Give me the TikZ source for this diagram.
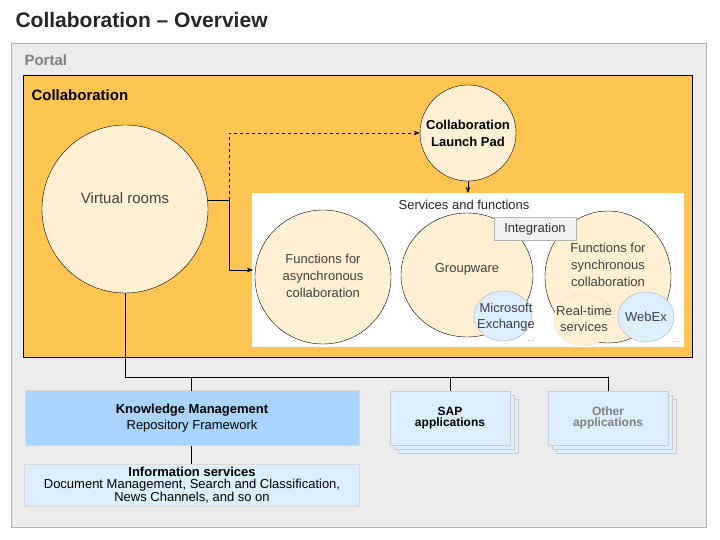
\documentclass[tikz,border=0pt]{standalone}
\usepackage{fontspec}
\setmainfont{Liberation Sans}
\usetikzlibrary{arrows.meta,shapes.geometric}
\definecolor{portal}{HTML}{ECECEC}
\definecolor{collab}{HTML}{FFC550}
\definecolor{cream}{HTML}{FFF0D4}
\definecolor{kmblue}{HTML}{A8D4FD}
\definecolor{paleblue}{HTML}{DDEEFF}
\begin{document}
\begin{tikzpicture}[x=1pt,y=-1pt,
    circ/.style={draw, ellipse, fill=cream, inner sep=0},
    lbl/.style={align=center, font=\fontsize{13}{17}\selectfont, text=black!75},
    sub/.style={draw=gray!60, ellipse, fill=paleblue, inner sep=0},
    app/.style={draw=gray!40, fill=paleblue, minimum width=120, minimum height=54, align=center, font=\bfseries\fontsize{12}{11}\selectfont},
    line/.style={draw, thin}]
  \useasboundingbox (0,0) rectangle (720,540);
  \fill[white] (0,0) rectangle (720,540);
  \node[anchor=west, font=\bfseries\fontsize{21}{23}\selectfont, text=black!85] (title) at (12,20) {Collaboration -- Overview};
  % portal and collaboration areas
  \draw[gray!60, fill=portal] (11,43) rectangle (706,527);
  \node[anchor=west, font=\bfseries\fontsize{15}{17}\selectfont, text=gray] (portal) at (21,60) {Portal};
  \draw[fill=collab] (23,75) rectangle (692,357);
  \node[anchor=west, font=\bfseries\fontsize{15}{17}\selectfont] (collab) at (28,95) {Collaboration};
  \fill[white] (252,193) rectangle (684,347);
  \node[font=\fontsize{13}{15}\selectfont, text=black!85] (services) at (464,205) {Services and functions};

  \node[circ, minimum width=166, minimum height=168] (rooms) at (125,209) {};
  \node[lbl, font=\fontsize{15}{17}\selectfont] (roomslbl) at (125,198) {Virtual rooms};
  \node[circ, minimum width=96, minimum height=96] (launch) at (468,133) {};
  \node[lbl, font=\bfseries\fontsize{13}{17}\selectfont, text=black] (launchlbl) at (468,133) {Collaboration\\Launch Pad};
  \node[circ, minimum width=136, minimum height=134] (async) at (323,277) {};
  \node[lbl] (asynclbl) at (323,276) {Functions for\\asynchronous\\collaboration};
  \node[circ, minimum width=132, minimum height=124] (group) at (467,275) {};
  \node[lbl] (grouplbl) at (467,269) {Groupware};
  \node[circ, minimum width=126, minimum height=132] (sync) at (608,277) {};
  \node[lbl] (synclbl) at (608,265) {Functions for\\synchronous\\collaboration};
  \node[draw=gray!60, fill=gray!12, font=\fontsize{13}{15}\selectfont, text=black!80, minimum width=82, minimum height=23] (integ) at (535,229) {Integration};
  \node[sub, minimum width=58, minimum height=50] (exch) at (503,316) {};
  \node[lbl, font=\fontsize{13}{16}\selectfont] (exchlbl) at (506,317) {Microsoft\\Exchange};
  \node[sub, draw=gray!50, densely dotted, fill=cream, minimum width=60, minimum height=52] (rt) at (584,320) {};
  \node[lbl, font=\fontsize{13}{16}\selectfont] (rtlbl) at (584,319) {Real-time\\services};
  \node[sub, minimum width=56, minimum height=50] (webex) at (646,317) {};
  \node[lbl] (webexlbl) at (646,317) {WebEx};
  \node[font=\scriptsize, text=black!70] (dots1) at (531,341) {\dots};
  \node[font=\scriptsize, text=black!70] (dots2) at (676,342) {\dots};

  % connectors
  \coordinate (split) at (229,200);
  \coordinate (asyncin) at (253,270);
  \coordinate (svctop) at (468,193);
  \draw[line] (208,200) -- (split);
  \draw[line, dashed, -{Stealth[length=6pt]}] (split) |- (launch.west);
  \draw[line, -{Stealth[length=6pt]}] (split) |- (asyncin);
  \draw[line, -{Stealth[length=6pt]}] (launch.south) -- (svctop);

  % repositories
  \node[draw=gray!30, fill=kmblue, minimum width=334, minimum height=55, align=center, font=\fontsize{13}{16}\selectfont] (km) at (192,418) {\textbf{Knowledge Management}\\Repository Framework};
  \node[draw=gray!30, fill=paleblue, minimum width=335, minimum height=42, align=center, font=\fontsize{13}{12}\selectfont, inner sep=0] (info) at (192,485) {\textbf{Information services}\\Document Management, Search and Classification,\\News Channels, and so on};
  \foreach \x in {450,608}{
    \node[app] at (\x+8,426) {};
    \node[app] at (\x+4,422) {};
  }
  \node[app] (sap) at (450,418) {SAP\\applications};
  \node[app, text=gray] (other) at (608,418) {Other\\applications};
  \coordinate (bus) at (125,377);
  \draw[line] (rooms.south) -- (bus) -- (other.north |- bus) -- (other.north);
  \draw[line] (191,377) -- (191,391);
  \draw[line] (sap.north |- bus) -- (sap.north);
  \draw[line] (191,446) -- (191,464);
\end{tikzpicture}
\end{document}
